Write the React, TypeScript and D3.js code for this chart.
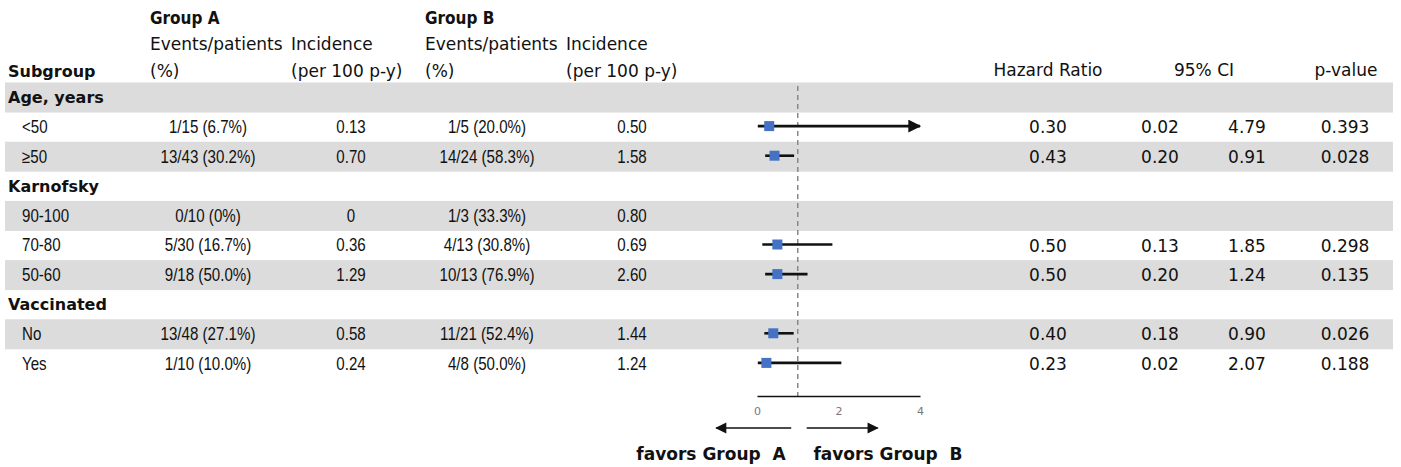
import React, { useEffect, useRef } from "react";
import * as d3 from "d3";

// ---- Data ----
const rowLabels = ["Age, years", "<50", "≥50", "Karnofsky", "90-100", "70-80", "50-60", "Vaccinated", "No", "Yes"];
const rowIsHeader = [true, false, false, true, false, false, false, true, false, false];
const groupAEvents = ["", "1/15 (6.7%)", "13/43 (30.2%)", "", "0/10 (0%)", "5/30 (16.7%)", "9/18 (50.0%)", "", "13/48 (27.1%)", "1/10 (10.0%)"];
const groupAIncidence = ["", "0.13", "0.70", "", "0", "0.36", "1.29", "", "0.58", "0.24"];
const groupBEvents = ["", "1/5 (20.0%)", "14/24 (58.3%)", "", "1/3 (33.3%)", "4/13 (30.8%)", "10/13 (76.9%)", "", "11/21 (52.4%)", "4/8 (50.0%)"];
const groupBIncidence = ["", "0.50", "1.58", "", "0.80", "0.69", "2.60", "", "1.44", "1.24"];
const hazardRatio: (number | null)[] = [null, 0.30, 0.43, null, null, 0.50, 0.50, null, 0.40, 0.23];
const ciLower: (number | null)[] = [null, 0.02, 0.20, null, null, 0.13, 0.20, null, 0.18, 0.02];
const ciUpper: (number | null)[] = [null, 4.79, 0.91, null, null, 1.85, 1.24, null, 0.90, 2.07];
const pValues = ["", "0.393", "0.028", "", "", "0.298", "0.135", "", "0.026", "0.188"];
const shadedRows = [0, 2, 4, 6, 8];
const axisTicks = [0, 2, 4];

const W = 1401;
const H = 467;
const sansFont = "'DejaVu Sans', sans-serif";
const condFont = "'DejaVu Sans Condensed', 'DejaVu Sans', sans-serif";
const numFont = "'Liberation Sans', Arial, sans-serif";
const textColor = "#111";

// narrow numeric text: Liberation Sans squeezed horizontally
function NarrowText({ x, y, anchor = "middle", children }: { x: number; y: number; anchor?: string; children: React.ReactNode }) {
  return (
    <text
      transform={`translate(${x},${y}) scale(0.84,1)`}
      textAnchor={anchor}
      dominantBaseline="central"
      fontFamily={numFont}
      fontSize={18}
      fill={textColor}
    >
      {children}
    </text>
  );
}

export default function App() {
  const axisRef = useRef<SVGGElement>(null);

  const x = d3.scaleLinear().domain([0, 4]).range([757, 920]);
  const y = d3.scaleLinear().domain([0, 1]).range([97.5, 127.1]);
  const rowH = 30;
  const axisY = 396;

  useEffect(() => {
    if (!axisRef.current) return;
    const g = d3.select(axisRef.current);
    g.selectAll("*").remove();
    g.call(d3.axisBottom(x).tickValues(axisTicks).tickSize(0).tickPadding(11).tickFormat(d3.format("d")));
    g.select(".domain").attr("stroke", "#111").attr("stroke-width", 1.3);
    g.selectAll("text")
      .attr("fill", "#777")
      .style("font-family", sansFont)
      .style("font-size", "11px");
  }, []);

  const rightText = (cx: number, yy: number, t: string, key: string) => (
    <text key={key} x={cx} y={yy} textAnchor="middle" dominantBaseline="central" fontFamily={sansFont} fontSize={17} fill={textColor}>
      {t}
    </text>
  );

  return (
    <svg width={W} height={H} style={{ position: "absolute", left: 0, top: 0, background: "#fff" }}>
      <defs>
        <marker id="arrowHead" viewBox="0 0 10 10" refX="9" refY="5" markerWidth="5" markerHeight="5" orient="auto-start-reverse">
          <path d="M0,0 L10,5 L0,10 z" fill="#111" />
        </marker>
        <marker id="arrowHeadSmall" viewBox="0 0 10 10" refX="9" refY="5" markerWidth="7.5" markerHeight="7" orient="auto-start-reverse">
          <path d="M0,0 L10,5 L0,10 z" fill="#111" />
        </marker>
      </defs>

      {/* shaded bands */}
      {shadedRows.map((i) => (
        <rect key={"band" + i} x={5} y={y(i) - rowH / 2} width={1388} height={rowH} fill="#dcdcdc" />
      ))}

      {/* column headers */}
      <g fill={textColor}>
        <g fontFamily={condFont} fontWeight="bold" fontSize={17}>
          <text x={150} y={24}>Group A</text>
          <text x={425} y={24}>Group B</text>
        </g>
        <g fontFamily={sansFont} fontSize={17}>
          <text x={150} y={50}>Events/patients</text>
          <text x={150} y={77}>(%)</text>
          <text x={291} y={50}>Incidence</text>
          <text x={291} y={77}>(per 100 p-y)</text>
          <text x={425} y={50}>Events/patients</text>
          <text x={425} y={77}>(%)</text>
          <text x={566} y={50}>Incidence</text>
          <text x={566} y={77}>(per 100 p-y)</text>
          <text x={1048} y={76} textAnchor="middle">Hazard Ratio</text>
          <text x={1204} y={76} textAnchor="middle">95% CI</text>
          <text x={1346} y={76} textAnchor="middle">p-value</text>
        </g>
        <text x={8} y={77} fontFamily={sansFont} fontWeight="bold" fontSize={16}>Subgroup</text>
      </g>

      {/* rows */}
      {rowLabels.map((lab, i) => (
        <g key={"row" + i}>
          {rowIsHeader[i] ? (
            <text x={8} y={y(i)} dominantBaseline="central" fontFamily={sansFont} fontWeight="bold" fontSize={16} fill={textColor}>
              {lab}
            </text>
          ) : (
            <NarrowText x={22} y={y(i)} anchor="start">{lab}</NarrowText>
          )}
          {groupAEvents[i] && <NarrowText x={208} y={y(i)}>{groupAEvents[i]}</NarrowText>}
          {groupAIncidence[i] && <NarrowText x={351} y={y(i)}>{groupAIncidence[i]}</NarrowText>}
          {groupBEvents[i] && <NarrowText x={487} y={y(i)}>{groupBEvents[i]}</NarrowText>}
          {groupBIncidence[i] && <NarrowText x={632} y={y(i)}>{groupBIncidence[i]}</NarrowText>}
          {hazardRatio[i] !== null && rightText(1048, y(i), d3.format(".2f")(hazardRatio[i] as number), "hr")}
          {ciLower[i] !== null && rightText(1160, y(i), d3.format(".2f")(ciLower[i] as number), "lo")}
          {ciUpper[i] !== null && rightText(1247, y(i), d3.format(".2f")(ciUpper[i] as number), "hi")}
          {pValues[i] !== "" && rightText(1345, y(i), pValues[i], "p")}
        </g>
      ))}

      {/* reference line at HR = 1 */}
      <line x1={x(1)} x2={x(1)} y1={86} y2={axisY} stroke="#888" strokeWidth={1.5} strokeDasharray="5,4" />

      {/* confidence intervals and point estimates */}
      {hazardRatio.map((hr, i) => {
        if (hr === null) return null;
        const lo = ciLower[i] as number;
        const hi = ciUpper[i] as number;
        const clipped = hi > x.domain()[1];
        const cy = y(i) - 1;
        return (
          <g key={"ci" + i}>
            <line
              x1={x(lo)}
              x2={x(clipped ? x.domain()[1] : hi)}
              y1={cy}
              y2={cy}
              stroke="#111"
              strokeWidth={2.6}
              markerEnd={clipped ? "url(#arrowHead)" : undefined}
            />
            <rect x={x(hr) - 5} y={cy - 5} width={10} height={10} fill="#4472C4" />
          </g>
        );
      })}

      {/* x axis */}
      <g ref={axisRef} transform={`translate(0,${axisY})`} />

      {/* direction arrows */}
      <line x1={x(0.84)} x2={x(-1.0)} y1={428} y2={428} stroke="#111" strokeWidth={1.6} markerEnd="url(#arrowHeadSmall)" />
      <line x1={x(1.22)} x2={x(2.96)} y1={428} y2={428} stroke="#111" strokeWidth={1.6} markerEnd="url(#arrowHeadSmall)" />
      <text x={711} y={460} textAnchor="middle" fontFamily={sansFont} fontWeight="bold" fontSize={17} fill={textColor} style={{ whiteSpace: "pre" }}>
        {"favors Group  A"}
      </text>
      <text x={888} y={460} textAnchor="middle" fontFamily={sansFont} fontWeight="bold" fontSize={17} fill={textColor} style={{ whiteSpace: "pre" }}>
        {"favors Group  B"}
      </text>
    </svg>
  );
}
